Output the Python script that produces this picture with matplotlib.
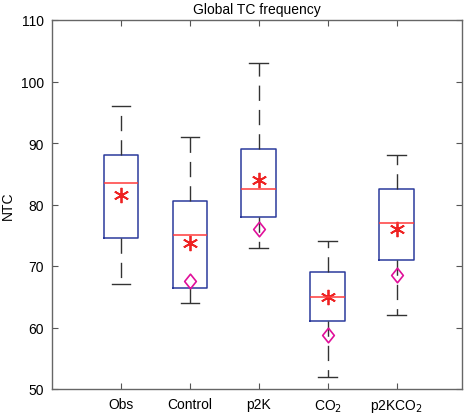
import numpy as np
import matplotlib.pyplot as plt
from matplotlib.path import Path

plt.rcParams['font.family'] = ['Liberation Sans', 'DejaVu Sans']

labels = ['Obs', 'Control', 'p2K', 'CO$_2$', 'p2KCO$_2$']
whislo = [67, 64, 73, 52, 62]
q1 = [74.5, 66.5, 78, 61, 71]
med = [83.5, 75, 82.5, 65, 77]
q3 = [88, 80.5, 89, 69, 82.5]
whishi = [96, 91, 103, 74, 88]
means = [81.5, 73.8, 84, 65, 76]
# diamond markers (no value for Obs)
diamonds = [np.nan, 67.5, 76, 58.7, 68.5]

stats = []
for i in range(len(labels)):
    stats.append(dict(whislo=whislo[i], q1=q1[i], med=med[i], q3=q3[i],
                      whishi=whishi[i], fliers=[], label=labels[i]))

pos = np.arange(1, len(labels) + 1)

# slightly tall diamond like matlab's
diam = Path([(0, 1), (0.8, 0), (0, -1), (-0.8, 0), (0, 1)],
            [Path.MOVETO, Path.LINETO, Path.LINETO, Path.LINETO, Path.CLOSEPOLY])

fig = plt.figure(figsize=(4.67, 4.14), dpi=100)
ax = fig.add_axes([52 / 467, 24 / 414, 410 / 467, 369 / 414])

ax.bxp(stats, positions=pos, widths=0.5, showfliers=False,
       boxprops=dict(color='#2b3a9c', linewidth=1.1),
       medianprops=dict(color='#ff3b3b', linewidth=1.1),
       whiskerprops=dict(color='#333333', linewidth=1.0, linestyle=(0, (11, 6.5))),
       capprops=dict(color='#333333', linewidth=1.0),
       capwidths=0.27)

ax.plot(pos, means, linestyle='none', marker=(6, 2, 0), markersize=11,
        markeredgewidth=1.3, color='#ee2222')
ax.plot(pos, diamonds, linestyle='none', marker=diam, markersize=10.5,
        markerfacecolor='none', markeredgecolor='#e0109a', markeredgewidth=1.2)

ax.set_xlim(0, 5.95)
ax.set_ylim(50, 110)
ax.set_yticks(np.arange(50, 111, 10))
ax.set_xticks(pos)
ax.set_xticklabels(labels)
ax.tick_params(direction='in', top=True, right=True, length=4,
               color='#555555', labelsize=10, pad=6)
for s in ax.spines.values():
    s.set_color('#666666')
    s.set_linewidth(1.0)

ax.set_ylabel('NTC', fontsize=10)
ax.set_title('Global TC frequency', fontsize=10, pad=5)

fig.savefig('out.png', dpi=100)
